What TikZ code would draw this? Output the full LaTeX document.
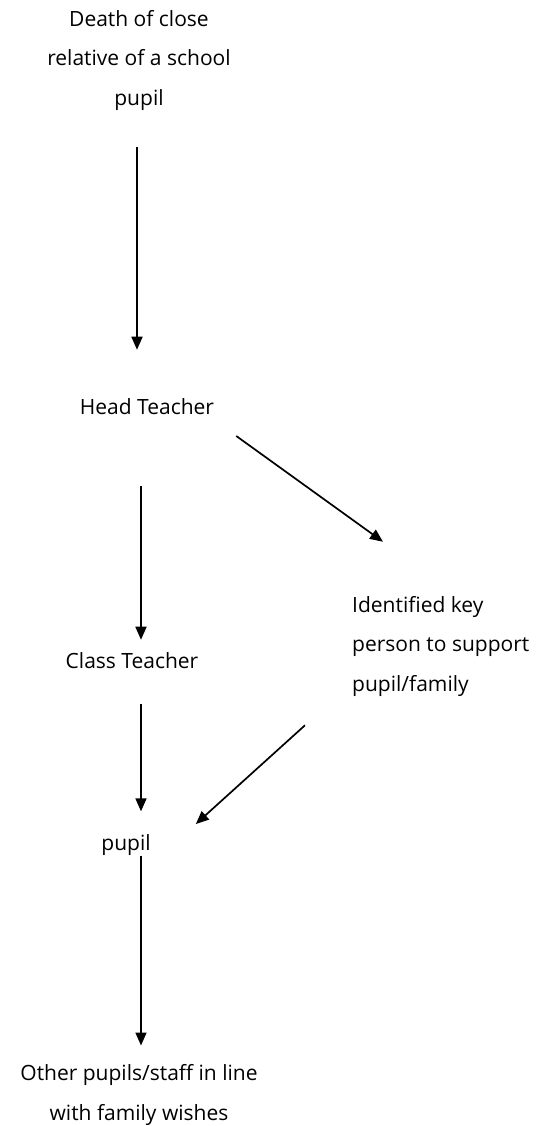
\documentclass[tikz,border=0pt]{standalone}
\usepackage{fontspec}
\setmainfont{Open Sans}
\usetikzlibrary{arrows.meta}
\begin{document}
\begin{tikzpicture}[x=1pt,y=-1pt,
  lbl/.style={inner sep=0pt, font=\fontsize{21}{39.5}\selectfont, text=black},
  arr/.style={line width=1.7pt, -{Triangle[length=13pt,width=11pt]}}]
\useasboundingbox (0,0) rectangle (541,1126);
\node[lbl, align=center] (death) at (139,60) {Death of close\\relative of a school\\pupil};
\node[lbl] (head) at (147,407) {Head Teacher};
\node[lbl, align=left, anchor=west] (ident) at (352,646) {Identified key\\person to support\\pupil/family};
\node[lbl] (class) at (132,661) {Class Teacher};
\node[lbl] (pupil) at (126,845) {pupil};
\node[lbl, align=center] (other) at (139,1095) {Other pupils/staff in line\\with family wishes};

\draw[arr, shorten <=37pt, shorten >=49pt] ([xshift=-2pt]death.south) -- ([xshift=-10pt]head.north);
\draw[arr] ([xshift=22pt,yshift=-29pt]head.east) -- ([xshift=31pt,yshift=54pt]ident.north west);
\draw[arr, shorten <=71pt, shorten >=13pt] ([xshift=-6pt]head.south) -- ([xshift=9pt]class.north);
\draw[arr, shorten <=35pt, shorten >=23pt] ([xshift=9pt]class.south) -- ([xshift=15pt]pupil.north);
\draw[arr] ([xshift=-47pt,yshift=-29pt]ident.south west) -- ([xshift=45pt,yshift=21pt]pupil.east);
\draw[arr, shorten >=19pt] ([xshift=15pt]pupil.south) -- ([xshift=2pt]other.north);
\end{tikzpicture}
\end{document}
